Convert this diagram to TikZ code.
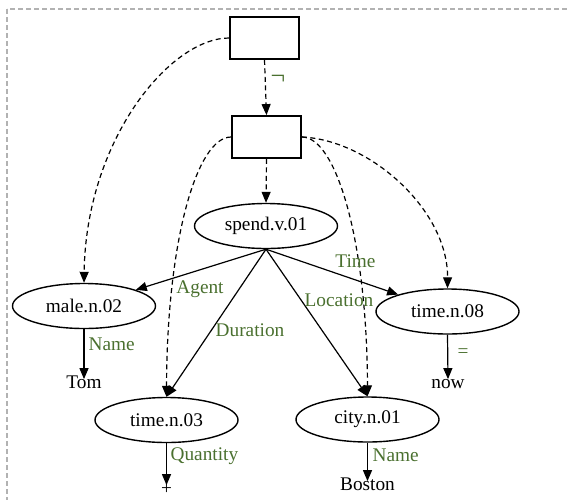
\documentclass[tikz,border=0pt]{standalone}
\usepackage{fontspec}
\setmainfont{Liberation Serif}
\usetikzlibrary{arrows.meta,shapes.geometric}
\definecolor{lblgreen}{RGB}{74,112,47}
\tikzset{
  every node/.style={font=\fontsize{19.3}{23}\selectfont},
  ell/.style={draw, ellipse, line width=1.4pt, minimum width=143pt, minimum height=45pt, inner sep=0pt},
  emptybox/.style={draw, rectangle, line width=1.8pt, minimum width=69pt, minimum height=42pt, inner sep=0pt},
  txt/.style={anchor=base, inner sep=1.5pt, text height=0.72em, text depth=0.2em},
  lbl/.style={text=lblgreen, inner sep=0pt},
  arr/.style={-{Triangle[length=11pt,width=9pt]}, line width=1.2pt},
  dsh/.style={arr, dash pattern=on 5pt off 3.5pt},
}
\begin{document}
\begin{tikzpicture}[x=1pt,y=-1pt]
\useasboundingbox (0,0) rectangle (567,499);
\clip (0,0) rectangle (567,499);
\draw[gray!60, line width=1.2pt, dash pattern=on 5pt off 3pt] (7,9) rectangle (620,560);

\node[emptybox] (b1) at (264.5,38) {};
\node[emptybox] (b2) at (266.5,137) {};
\node[ell] (spend) at (266,226) {spend.v.01};
\node[ell] (male) at (84,306) {male.n.02};
\node[ell] (t08) at (447.5,311.5) {time.n.08};
\node[ell] (t03) at (166.5,420) {time.n.03};
\node[ell] (city) at (367.5,419.5) {city.n.01};
\node[txt] (tom) at (84,388) {Tom};
\node[txt] (now) at (448,388) {now};
\node[txt] (plus) at (166.5,494) {+};
\node[txt] (boston) at (367.5,490) {Boston};

% dashed connectors
\draw[dsh] (b1.south) -- (b2.north) node[lbl, font=\fontsize{26}{28}\selectfont] at (278,80) {¬};
\draw[dsh] (b2.south) -- (spend.north);
\draw[dsh] (b1.west) .. controls (170,38) and (86,140) .. (male.north);
\draw[dsh] (b2.west) .. controls (197,137) and (167,240) .. (t03.north);
\draw[dsh] (b2.east) .. controls (336,137) and (367,240) .. (city.north);
\draw[dsh] (b2.east) .. controls (370,140) and (448,210) .. (t08.north);

% solid connectors
\coordinate (s) at (spend.south);
\draw[arr] (s) -- (male) node[lbl, anchor=base] at (200,293) {Agent};
\draw[arr] (s) -- (t08) node[lbl, anchor=base] at (355.5,267) {Time};
\draw[arr] (s) -- (t03.north) node[lbl, anchor=base] at (250,336) {Duration};
\draw[arr] (s) -- (city.north) node[lbl, anchor=base] at (339,306) {Location};

\draw[arr] (male.south) -- (tom.north) node[lbl, anchor=base west] at (88,350) {Name};
\draw[arr] (t08.south) -- (now.north) node[lbl] at (463,353) {=};
\draw[arr] (t03.south) -- (plus.north) node[lbl, anchor=base west] at (170,460) {Quantity};
\draw[arr] (city.south) -- (boston.north) node[lbl, anchor=base west] at (372,461) {Name};
\end{tikzpicture}
\end{document}
